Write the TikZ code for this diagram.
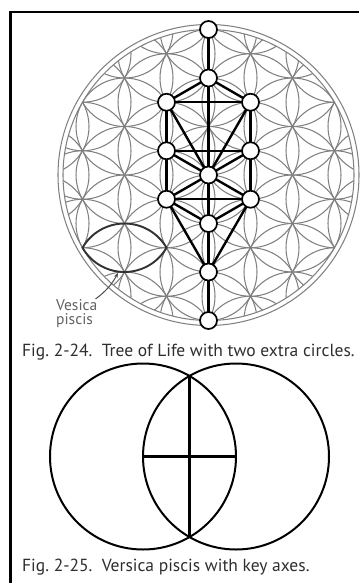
\documentclass[tikz,border=0pt]{standalone}
\usepackage{fontspec}
\setmainfont{PT Sans}
\usetikzlibrary{arrows.meta}
\pgfdeclarelayer{gridlayer}
\pgfdeclarelayer{edgelayer}
\pgfsetlayers{gridlayer,edgelayer,main}
\begin{document}
\begin{tikzpicture}[x=1pt,y=-1pt,
  tnode/.style={circle,draw=black,fill=white,line width=1.7pt,minimum size=17pt,inner sep=0pt},
  treeline/.style={line width=2.4pt,black},
  flower/.style={draw=black!50,line width=1.05pt},
  lens/.style={draw=black!80,line width=1.9pt},
  frameline/.style={line width=2.6pt,black},
  vcirc/.style={draw=black,line width=2pt},
  vaxis/.style={line width=2.2pt,black},
  caption/.style={font=\fontsize{17.5}{20}\selectfont,text=black!82,inner sep=0pt,anchor=base west},
  lbl/.style={font=\fontsize{15.5}{15.5}\selectfont,text=black!62,inner sep=0pt,align=left,anchor=north west},
  arr/.style={-{Stealth[length=5pt,width=4pt]},line width=1pt,black!70}]
\useasboundingbox (0,0) rectangle (359,583);
% frame
\draw[frameline] (10.5,583) -- (10.5,12) -- (359,12);
% flower of life
\begin{pgfonlayer}{gridlayer}
\begin{scope}
\clip (208.5,175) circle[radius=145.5];
\foreach \i in {-4,...,4} {
  \foreach \j in {-5,...,5} {
    \draw[flower] ({208.5+\i*42},{175+(\j+\i/2)*48.5}) circle[radius=48.5];
  }
}
\end{scope}
\draw[flower] (208.5,175) circle[radius=145.5];
\draw[flower] (208.5,175) circle[radius=150.5];
\draw[lens] (82.5,247.75) arc[start angle=-150,end angle=-30,radius=48.5]
  arc[start angle=30,end angle=150,radius=48.5] -- cycle;
\end{pgfonlayer}
% tree nodes
\node[tnode] (top) at (208.5,29.5) {};
\node[tnode] (k) at (208.5,78) {};
\node[tnode] (bi) at (166.5,102.25) {};
\node[tnode] (ch) at (250.5,102.25) {};
\node[tnode] (ge) at (166.5,150.75) {};
\node[tnode] (cs) at (250.5,150.75) {};
\node[tnode] (ti) at (208.5,175) {};
\node[tnode] (ho) at (166.5,199.25) {};
\node[tnode] (ne) at (250.5,199.25) {};
\node[tnode] (ye) at (208.5,223.5) {};
\node[tnode] (ma) at (208.5,272) {};
\node[tnode] (bot) at (208.5,320.5) {};
\begin{pgfonlayer}{edgelayer}
\foreach \a/\b in {top/k,k/bi,k/ch,k/ti,bi/ch,bi/ge,bi/ti,ch/cs,ch/ti,ge/cs,ge/ti,ge/ho,cs/ti,cs/ne,ti/ho,ti/ne,ti/ye,ho/ne,ho/ye,ne/ye,ho/ma,ne/ma,ye/ma,ma/bot}
  \draw[treeline] (\a.center) -- (\b.center);
\end{pgfonlayer}
% label and arrow
\node[lbl] (vlabel) at (56,299) {Vesica\\[-1pt]piscis};
\coordinate (lensb) at (118,273);
\draw[arr] ([xshift=-2pt]vlabel.north east) to[bend right=12] (lensb);
% captions
\node[caption] (cap1) at (22,356) {Fig.\ 2-24.\ \ Tree of Life with two extra circles.};
% vesica piscis figure
\coordinate (c1) at (143,456.5);
\coordinate (c2) at (236,456.5);
\draw[vcirc] (c1) circle[radius=93];
\draw[vcirc] (c2) circle[radius=93];
\coordinate (vt) at (189.5,376);
\coordinate (vb) at (189.5,537);
\coordinate (hl) at (143,456.5);
\coordinate (hr) at (236,456.5);
\draw[vaxis] (vt) -- (vb);
\draw[vaxis] (hl) -- (hr);
\node[caption] (cap2) at (22,571) {Fig.\ 2-25.\ \ Versica piscis with key axes.};
\end{tikzpicture}
\end{document}
